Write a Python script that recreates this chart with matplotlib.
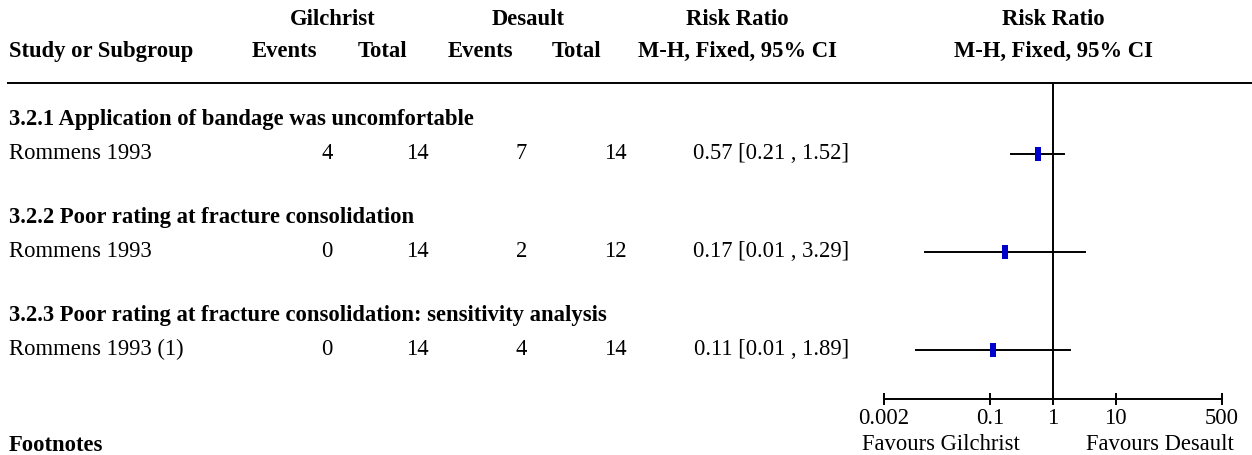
import matplotlib
matplotlib.use("Agg")
import matplotlib.pyplot as plt
from matplotlib.ticker import NullLocator

# Datos del forest plot (Gilchrist vs Desault)
subgroups = ["3.2.1 Application of bandage was uncomfortable",
             "3.2.2 Poor rating at fracture consolidation",
             "3.2.3 Poor rating at fracture consolidation: sensitivity analysis"]
studies = ["Rommens 1993", "Rommens 1993", "Rommens 1993 (1)"]
gil_events = [4, 0, 0]
gil_total = [14, 14, 14]
des_events = [7, 2, 4]
des_total = [14, 12, 14]
rr = [0.57, 0.17, 0.11]
ci_lo = [0.21, 0.0091, 0.0065]
ci_hi = [1.52, 3.29, 1.89]
ticks = [0.002, 0.1, 1, 10, 500]
tick_labels = ["0.002", "0.1", "1", "10", "500"]

# Layout en pixeles (y hacia abajo)
W, H = 1252, 455
head_y = [25, 57]
sub_y = [124.5, 222.5, 320.5]
row_y = [154.3, 252.3, 350.3]
line_y = 82.5
axis_y = 399
col_x = [333, 429, 527, 627]
ci_x = 849

plt.rcParams["font.family"] = ["Liberation Serif", "DejaVu Serif"]
fs = 16.3
blue = "#0000cc"

fig = plt.figure(figsize=(W / 100, H / 100), dpi=100)
ax = fig.add_axes([0, 0, 1, 1])
ax.set_xlim(0, W)
ax.set_ylim(H, 0)
ax.axis("off")

def txt(x, y, s, ha="left", bold=False):
    ax.text(x, y, s, ha=ha, va="baseline", fontsize=fs,
            fontweight="bold" if bold else "normal")

# Encabezados
for x, s in [(333, "Gilchrist"), (528, "Desault"), (737, "Risk Ratio"), (1053, "Risk Ratio")]:
    txt(x, head_y[0], s, ha="center", bold=True)
txt(9, head_y[1], "Study or Subgroup", bold=True)
for x, s in [(284, "Events"), (382, "Total"), (480, "Events"), (577, "Total"),
             (737, "M-H, Fixed, 95% CI"), (1053, "M-H, Fixed, 95% CI")]:
    txt(x, head_y[1], s, ha="center", bold=True)
ax.plot([7, W], [line_y, line_y], color="black", lw=1.4, solid_capstyle="butt")

# Filas de estudios
for i in range(len(studies)):
    txt(9, sub_y[i], subgroups[i], bold=True)
    yb = row_y[i] + 4.5
    txt(9, yb, studies[i])
    for x, v in zip(col_x, [gil_events[i], gil_total[i], des_events[i], des_total[i]]):
        txt(x, yb, str(v), ha="right")
    txt(ci_x, yb, f"{rr[i]:.2f} [{ci_lo[i]:.2f} , {ci_hi[i]:.2f}]", ha="right")

txt(9, 451, "Footnotes", bold=True)
txt(1020, 450, "Favours Gilchrist", ha="right")
txt(1086, 450, "Favours Desault", ha="left")

# Panel del forest plot (escala log)
x0, x1 = 884, 1222
fa = fig.add_axes([x0 / W, (H - axis_y) / H, (x1 - x0) / W, (axis_y - line_y) / H])
fa.set_xscale("log")
fa.set_xlim(ticks[0], ticks[-1])
fa.set_ylim(axis_y, line_y)
fa.patch.set_alpha(0)
for s in ["top", "left", "right"]:
    fa.spines[s].set_visible(False)
fa.spines["bottom"].set_linewidth(1.4)
fa.set_yticks([])
fa.set_xticks(ticks)
fa.set_xticklabels(tick_labels, fontsize=fs)
fa.xaxis.set_minor_locator(NullLocator())
fa.tick_params(axis="x", direction="inout", length=8.6, width=1.4, pad=2)
fa.axvline(1, color="black", lw=1.4)

box = [(-0.18, -0.5), (0.18, -0.5), (0.18, 0.5), (-0.18, 0.5), (-0.18, -0.5)]
for i in range(len(rr)):
    fa.plot([ci_lo[i], ci_hi[i]], [row_y[i], row_y[i]], color="black", lw=1.4)
    fa.plot([rr[i]], [row_y[i]], marker=box, markersize=10.1, color=blue,
            markeredgewidth=0, linestyle="none")

fig.savefig("out.png", dpi=100)
